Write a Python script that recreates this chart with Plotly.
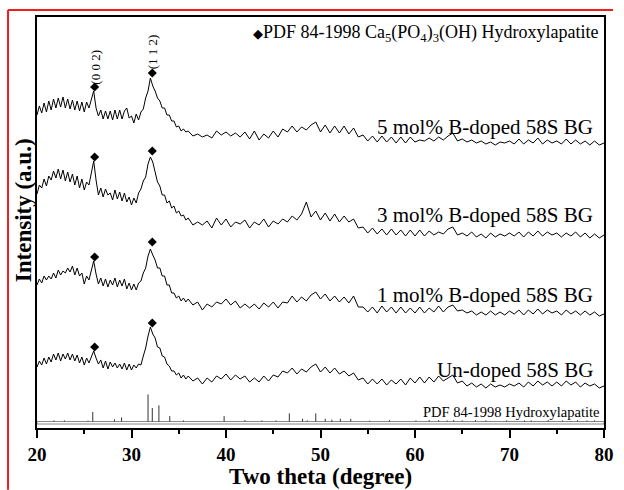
import numpy as np
import plotly.graph_objects as go

# ---------------- data ----------------
# two-theta sampling grid (deg)
theta_a = np.arange(20.0, 36.001, 0.25)   # 65 points
theta_b = np.arange(36.5, 80.001, 0.5)    # 88 points
theta = np.concatenate([theta_a, theta_b])

# intensities (a.u., offset-stacked as in the figure)
undoped_a = [61, 67, 63, 70, 64, 71, 66, 74, 68, 75, 67, 74, 69,
             75, 68, 74, 67, 73, 65, 71, 63, 70, 65, 72, 77, 70,
             64, 68, 60, 67, 59, 66, 61, 65, 60, 64, 59, 65, 58,
             64, 58, 63, 60, 64, 63, 72, 80, 92, 101, 94, 90, 81,
             80, 72, 71, 64, 62, 57, 57, 53, 55, 50, 53, 49, 52]
undoped_b = [47, 50, 44, 50, 46, 52, 49, 54, 48, 53, 49,
             52, 46, 50, 46, 52, 47, 53, 51, 57, 55, 60,
             54, 59, 56, 61, 64, 56, 61, 55, 60, 54, 57,
             52, 55, 48, 50, 44, 49, 44, 49, 43, 48, 44,
             49, 43, 50, 45, 51, 45, 51, 46, 52, 47, 50,
             53, 45, 47, 42, 45, 41, 44, 40, 44, 41, 43,
             41, 44, 42, 45, 41, 46, 42, 47, 43, 46, 42,
             46, 42, 47, 43, 46, 41, 45, 42, 44, 40, 42]

mol1_a = [143, 149, 145, 152, 148, 152, 149, 155, 150, 158, 153, 157, 155,
          160, 156, 162, 153, 160, 152, 155, 144, 152, 148, 159, 167, 154,
          144, 150, 142, 149, 141, 148, 143, 150, 141, 148, 142, 149, 139,
          145, 138, 144, 138, 145, 147, 155, 160, 172, 179, 173, 168, 160,
          160, 152, 152, 143, 143, 135, 135, 130, 132, 127, 130, 126, 129]
mol1_b = [123, 126, 118, 124, 121, 126, 124, 129, 123, 127, 120,
          124, 120, 124, 119, 125, 121, 126, 120, 126, 125, 132,
          126, 131, 127, 133, 136, 129, 134, 127, 132, 126, 131,
          125, 132, 121, 121, 116, 121, 115, 122, 116, 121, 115,
          121, 115, 120, 115, 121, 115, 120, 116, 122, 116, 121,
          123, 117, 118, 115, 117, 113, 116, 113, 117, 113, 116,
          113, 117, 114, 118, 113, 118, 114, 119, 114, 118, 115,
          117, 113, 118, 114, 117, 113, 117, 113, 116, 112, 114]

mol3_a = [234, 243, 240, 249, 242, 252, 248, 257, 250, 259, 249, 258, 247,
          256, 246, 254, 243, 252, 240, 249, 238, 246, 243, 257, 267, 248,
          233, 240, 231, 239, 233, 235, 228, 238, 229, 236, 227, 235, 226,
          231, 223, 230, 225, 235, 239, 247, 251, 264, 271, 266, 257, 246,
          242, 233, 233, 225, 227, 220, 222, 215, 217, 212, 213, 208, 210]
mol3_b = [203, 206, 203, 207, 200, 210, 203, 209, 201, 206, 204,
          208, 200, 206, 203, 209, 201, 207, 204, 209, 206, 212,
          208, 214, 226, 211, 217, 208, 215, 207, 214, 206, 212,
          206, 209, 200, 201, 195, 200, 194, 199, 193, 199, 193,
          198, 192, 198, 192, 198, 192, 197, 193, 196, 194, 199,
          201, 193, 195, 192, 196, 191, 194, 190, 195, 191, 194,
          192, 195, 192, 196, 191, 196, 192, 197, 192, 196, 193,
          195, 191, 195, 192, 196, 191, 195, 190, 194, 190, 193]

mol5_a = [313, 322, 315, 325, 316, 327, 318, 329, 320, 330, 321, 331, 320,
          329, 319, 328, 318, 327, 317, 326, 316, 326, 320, 328, 337, 320,
          312, 318, 309, 317, 309, 317, 308, 318, 309, 318, 309, 317, 320,
          310, 312, 305, 314, 308, 316, 319, 330, 337, 350, 342, 337, 330,
          327, 320, 320, 313, 313, 307, 307, 301, 302, 297, 299, 296, 297]
mol5_b = [292, 294, 291, 293, 290, 297, 293, 296, 292, 295, 291,
          296, 289, 297, 288, 294, 290, 297, 291, 299, 296, 302,
          296, 301, 298, 303, 306, 296, 303, 295, 302, 295, 302,
          294, 300, 291, 293, 287, 292, 286, 292, 286, 291, 285,
          291, 285, 291, 286, 288, 287, 290, 287, 291, 288, 292,
          295, 287, 289, 286, 288, 285, 287, 284, 286, 283, 286,
          285, 287, 284, 289, 284, 288, 285, 290, 284, 288, 285,
          287, 284, 289, 284, 288, 284, 287, 283, 287, 283, 285]

series_names = ["Un-doped 58S BG", "1 mol% B-doped 58S BG",
                "3 mol% B-doped 58S BG", "5 mol% B-doped 58S BG"]
series_vals = [undoped_a + undoped_b, mol1_a + mol1_b,
               mol3_a + mol3_b, mol5_a + mol5_b]
label_levels = [58, 133, 213, 301]

# HAp peak markers (002) and (112)
peak_theta = [26.1, 32.2]
peak_marks = [[81, 105], [171, 186], [271, 277], [341, 355]]
hkl_labels = ["(0 0 2)", "(1 1 2)"]
hkl_levels = [361, 376]

# PDF 84-1998 reference pattern (position, relative intensity)
pdf_theta = [21.8, 22.9, 25.4, 25.9, 28.2, 28.95, 31.75, 32.2, 32.9, 34.05,
             35.5, 39.8, 42.0, 43.8, 45.3, 46.7, 48.1, 48.6, 49.5, 50.5,
             51.2, 52.1, 53.2, 55.2, 57.3, 60.1, 61.5, 62.5, 63.4, 64.1,
             65.0, 66.4, 67.5, 69.7, 71.6, 72.3, 74.1, 75.6, 77.2, 78.2, 79.0]
pdf_int = [4, 4, 3, 35, 8, 15, 100, 50, 60, 20,
           4, 20, 5, 4, 4, 30, 10, 4, 30, 10,
           7, 10, 10, 3, 5, 4, 5, 5, 4, 6,
           4, 5, 4, 4, 4, 4, 5, 4, 5, 4, 4]
pdf_base = 6.5
pdf_scale = 0.27

# ---------------- figure ----------------
serif = "Liberation Serif, Times New Roman, serif"
fig = go.Figure()

for vals in series_vals:
    fig.add_trace(go.Scatter(x=theta, y=vals, mode="lines",
                             line=dict(color="black", width=1), showlegend=False,
                             hoverinfo="skip"))

for marks in peak_marks:
    fig.add_trace(go.Scatter(x=peak_theta, y=marks, mode="markers",
                             marker=dict(symbol="diamond", size=7, color="black"),
                             showlegend=False, hoverinfo="skip"))

sx, sy = [], []
for t, h in zip(pdf_theta, pdf_int):
    sx += [t, t, None]
    sy += [pdf_base, pdf_base + h * pdf_scale, None]
fig.add_trace(go.Scatter(x=sx, y=sy, mode="lines",
                         line=dict(color="#333333", width=1), showlegend=False,
                         hoverinfo="skip"))

# reference baseline (thin double line)
fig.add_shape(type="rect", xref="paper", x0=0, x1=1, yref="y", y0=4, y1=pdf_base,
              line=dict(color="#888888", width=1), fillcolor="white", layer="below")

# red frame (kept inside the figure)
fig.add_shape(type="line", xref="paper", yref="paper",
              x0=-0.0511, x1=-0.0511, y0=1.0172, y1=-0.15)
fig.add_shape(type="line", xref="paper", yref="paper",
              x0=-0.0511, x1=1.016, y0=1.0172, y1=1.0172)
fig.update_shapes(selector=dict(type="line"), line=dict(color="#f01e1e", width=2))

# curve labels
for name, lvl in zip(series_names, label_levels):
    fig.add_annotation(x=0.9844, xref="paper", y=lvl, yref="y", text=name,
                       showarrow=False, xanchor="right", yanchor="middle",
                       font=dict(family=serif, size=21, color="black"))

for t, lbl, lvl in zip(peak_theta, hkl_labels, hkl_levels):
    fig.add_annotation(x=t, y=lvl, text=lbl, textangle=-90, showarrow=False,
                       xanchor="center", yanchor="middle",
                       font=dict(family=serif, size=13, color="black"))

fig.add_annotation(x=0.993, xref="paper", y=395, yref="y",
                   text="<span style='font-size:13px'>◆</span>PDF 84-1998 Ca<sub>5</sub>(PO<sub>4</sub>)<sub>3</sub>(OH) Hydroxylapatite",
                   showarrow=False, xanchor="right", yanchor="middle",
                   font=dict(family=serif, size=18, color="black"))

fig.add_annotation(x=0.9948, xref="paper", y=16, yref="y",
                   text="PDF 84-1998 Hydroxylapatite",
                   showarrow=False, xanchor="right", yanchor="middle",
                   font=dict(family=serif, size=14.5, color="black"))

# axis titles
fig.add_annotation(x=0.5, xref="paper", y=-0.119, yref="paper",
                   text="<b>Two theta (degree)</b>", showarrow=False,
                   xanchor="center", yanchor="middle",
                   font=dict(family=serif, size=23, color="black"))
fig.add_annotation(x=-0.0243, xref="paper", y=218, yref="y",
                   text="<b>Intensity (a.u.)</b>", textangle=-90, showarrow=False,
                   xanchor="center", yanchor="middle",
                   font=dict(family=serif, size=23, color="black"))

fig.update_xaxes(range=[20, 80], dtick=10, tick0=20, ticks="outside", ticklen=8,
                 tickwidth=1.5, tickcolor="black", showline=True, linecolor="black",
                 linewidth=1.5, mirror=True, showgrid=False, zeroline=False,
                 tickfont=dict(family=serif, size=19, color="black", weight="bold"),
                 minor=dict(dtick=5, tick0=20, ticks="outside", ticklen=4,
                            tickwidth=1.5, tickcolor="black", showgrid=False))
fig.update_yaxes(range=[0, 411], showticklabels=False, ticks="", showline=True,
                 linecolor="black", linewidth=1.5, mirror=True, showgrid=False,
                 zeroline=False)

fig.update_layout(width=624, height=490, autosize=False,
                  margin=dict(l=37, r=10, t=17, b=62),
                  paper_bgcolor="white", plot_bgcolor="white")

post = ("document.documentElement.style.overflow='hidden';"
        "document.body.style.overflow='hidden';"
        "document.body.style.margin='0';"
        "Plotly.relayout('{plot_id}', {width: 624, height: 490});")
fig.write_html("out.html", config={"responsive": False}, post_script=post)
